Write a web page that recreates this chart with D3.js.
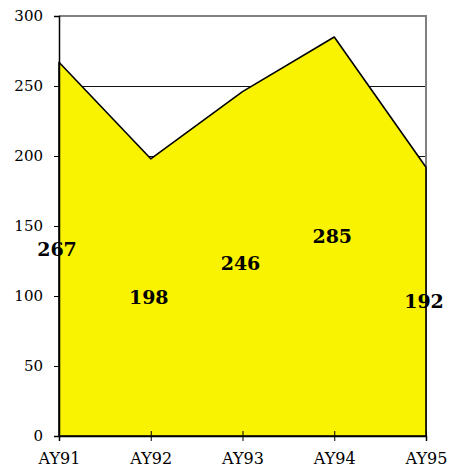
<!DOCTYPE html>
<html>
<head>
<meta charset="utf-8">
<script src="https://cdn.jsdelivr.net/npm/d3@7"></script>
<style>
  body { margin: 0; background: #fff; }
  svg text { font-family: "DejaVu Serif", serif; }
</style>
</head>
<body>
<div id="chart"></div>
<script>
const years = ["AY91", "AY92", "AY93", "AY94", "AY95"];
const values = [267, 198, 246, 285, 192];
const yTicks = [0, 50, 100, 150, 200, 250, 300];

const margin = {top: 16, right: 27, bottom: 32, left: 59},
      width = 453 - margin.left - margin.right,
      height = 468 - margin.top - margin.bottom;

const svg = d3.select("#chart")
  .append("svg")
  .attr("width", 453)
  .attr("height", 468)
  .append("g")
  .attr("transform", `translate(${margin.left},${margin.top})`);

const x = d3.scalePoint().domain(years).range([0, width]);
const y = d3.scaleLinear().domain([0, 300]).range([height, 0]);

// gridlines
svg.append("g")
  .selectAll("line")
  .data(yTicks.filter(d => d > 0 && d < 300))
  .join("line")
  .attr("x1", 0).attr("x2", width)
  .attr("y1", d => y(d) + 0.5).attr("y2", d => y(d) + 0.5)
  .attr("stroke", "#111")
  .attr("stroke-width", 1);

// plot border top/right
svg.append("path")
  .attr("d", `M0,${y(300)}H${width}V${height}`)
  .attr("fill", "none")
  .attr("stroke", "#808080")
  .attr("stroke-width", 2);

const data = years.map((d, i) => ({year: d, value: values[i]}));

const area = d3.area()
  .x(d => x(d.year))
  .y0(y(0))
  .y1(d => y(d.value));

svg.append("path")
  .datum(data)
  .attr("fill", "#f9f200")
  .attr("stroke", "#000")
  .attr("stroke-width", 1.6)
  .attr("stroke-linejoin", "round")
  .attr("d", area);

// Y axis
const yAxis = svg.append("g")
  .call(d3.axisLeft(y).tickValues(yTicks).tickSize(5).tickPadding(11));
yAxis.selectAll("text").style("font-size", "15px").attr("fill", "#000");
yAxis.select(".domain").attr("stroke", "#000").attr("stroke-width", 1.5);
yAxis.selectAll(".tick line").attr("stroke", "#000");

// X axis
const xAxis = svg.append("g")
  .attr("transform", `translate(0,${height})`)
  .call(d3.axisBottom(x).tickSize(5).tickPadding(12));
xAxis.selectAll("text").style("font-size", "16px").attr("fill", "#000");
xAxis.select(".domain").attr("stroke", "#000").attr("stroke-width", 1.5);
xAxis.selectAll(".tick line").attr("stroke", "#000").attr("y1", -5);

// value labels at half height
svg.append("g")
  .selectAll("text")
  .data(data)
  .join("text")
  .attr("x", d => x(d.year) - 2)
  .attr("y", d => y(d.value / 2))
  .attr("dy", "0.35em")
  .attr("text-anchor", "middle")
  .style("font-size", "19px")
  .style("font-weight", "bold")
  .attr("fill", "#000")
  .text(d => d.value);
</script>
</body>
</html>
